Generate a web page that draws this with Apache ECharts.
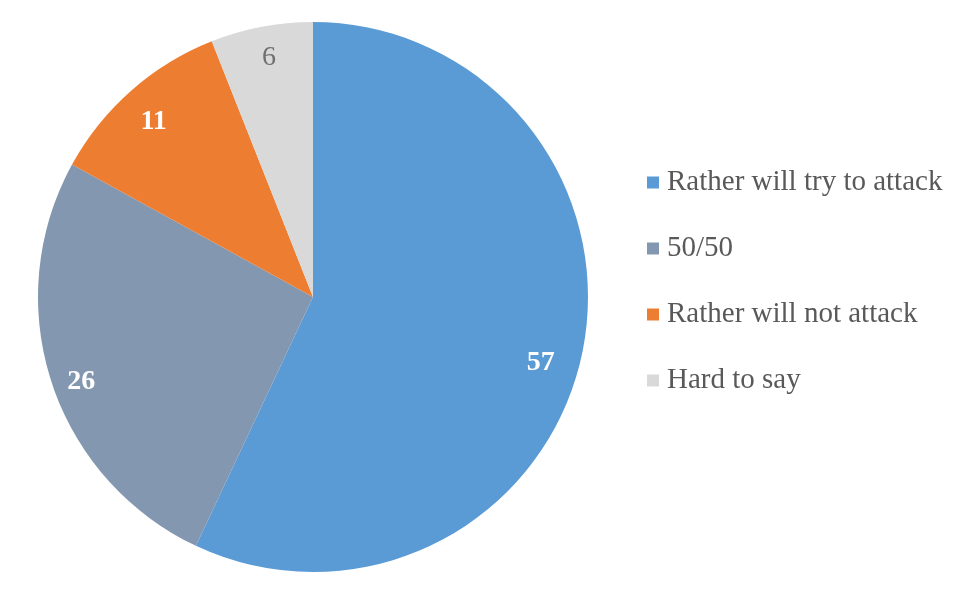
<!DOCTYPE html>
<html>
<head>
<meta charset="utf-8">
<script src="https://cdn.jsdelivr.net/npm/echarts@6/dist/echarts.min.js"></script>
<style>html,body{margin:0;padding:0;background:#fff}#c{width:979px;height:599px}</style>
</head>
<body>
<div id="c"></div>
<script>
const categories = ['Rather will try to attack', '50/50', 'Rather will not attack', 'Hard to say'];
const values = [57, 26, 11, 6];
const colors = ['#5B9BD5', '#8497B0', '#ED7D31', '#D9D9D9'];
const labelColors = ['#ffffff', '#ffffff', '#ffffff', '#707070'];
const labelWeights = ['bold', 'bold', 'bold', 'normal'];
const labelOffsets = [[-6, 14], [-4, 11], [-1, 4], [1, -4]];

const chart = echarts.init(document.getElementById('c'), null, {renderer: 'canvas'});
const R = 275;
chart.setOption({
  animation: false,
  textStyle: {fontFamily: '"Liberation Serif", "Times New Roman", serif'},
  legend: {
    orient: 'vertical',
    left: 647,
    top: 168,
    padding: 0,
    itemWidth: 12,
    itemHeight: 12,
    itemGap: 37,
    icon: 'rect',
    data: categories,
    textStyle: {fontSize: 29, color: '#595959', fontFamily: '"Liberation Serif", serif', lineHeight: 29, padding: [0,0,0,3]}
  },
  series: [
    {
      type: 'pie',
      center: [313, 297],
      radius: [0, R],
      startAngle: 90,
      clockwise: true,
      label: {show: false},
      labelLine: {show: false},
      itemStyle: {borderWidth: 0},
      data: categories.map((n, i) => ({name: n, value: values[i], itemStyle: {color: colors[i]}}))
    },
    {
      type: 'pie',
      center: [313, 297],
      radius: [R * 0.72, R],
      startAngle: 90,
      clockwise: true,
      silent: true,
      legendHoverLink: false,
      labelLine: {show: false},
      label: {show: true, position: 'inside', formatter: '{c}', fontSize: 28, fontFamily: '"Liberation Serif", serif'},
      data: categories.map((n, i) => ({
        name: n, value: values[i],
        itemStyle: {color: 'rgba(0,0,0,0)'},
        label: {color: labelColors[i], fontWeight: labelWeights[i], offset: labelOffsets[i]}
      }))
    }
  ]
});
</script>
</body>
</html>
